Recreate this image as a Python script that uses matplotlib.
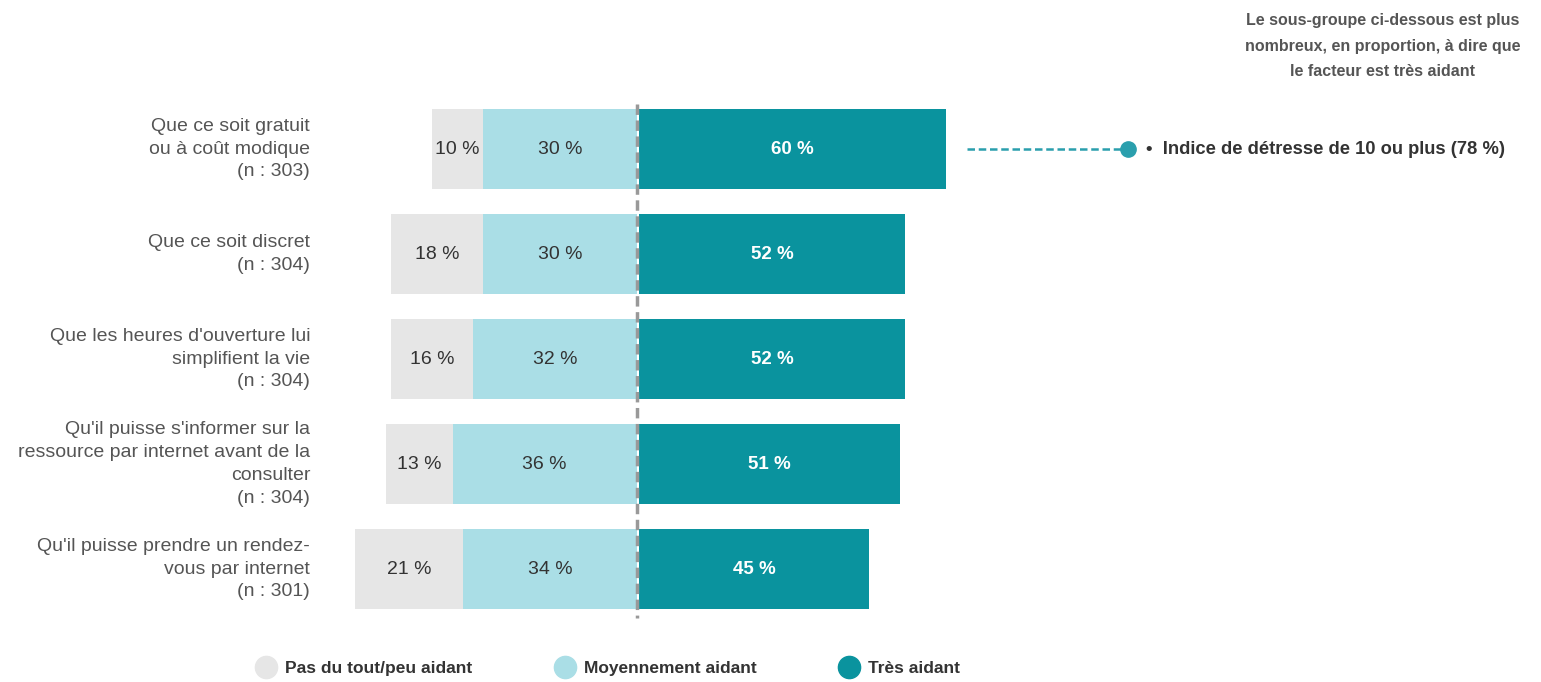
import matplotlib.pyplot as plt
from matplotlib.lines import Line2D

plt.rcParams['font.family'] = ['Liberation Sans', 'DejaVu Sans']

# facteurs, du haut vers le bas
labels = [
    "Que ce soit gratuit\nou à coût modique\n(n : 303)",
    "Que ce soit discret\n(n : 304)",
    "Que les heures d'ouverture lui\nsimplifient la vie\n(n : 304)",
    "Qu'il puisse s'informer sur la\nressource par internet avant de la\nconsulter\n(n : 304)",
    "Qu'il puisse prendre un rendez-\nvous par internet\n(n : 301)",
]
peu = [10, 18, 16, 13, 21]
moyen = [30, 30, 32, 36, 34]
tres = [60, 52, 52, 51, 45]

legend_names = ["Pas du tout/peu aidant", "Moyennement aidant", "Très aidant"]
c_peu = "#e6e6e6"
c_moyen = "#aadee6"
c_tres = "#0a939e"

fig = plt.figure(figsize=(15.41, 6.82), dpi=100)
ax = fig.add_axes([0, 0, 1, 1])
ax.set_xlim(-124.4, 176.6)
ax.set_ylim(5.076, -1.419)
ax.axis("off")

pos = list(range(len(labels)))
h = 0.77
ax.barh(pos, moyen, left=[-m for m in moyen], height=h, color=c_moyen)
ax.barh(pos, peu, left=[-(m + p) for m, p in zip(moyen, peu)], height=h, color=c_peu)
ax.barh(pos, tres, left=0.4, height=h, color=c_tres)

for i in pos:
    ax.text(-moyen[i] - peu[i] / 2, i, f"{peu[i]} %", ha="center", va="center",
            fontsize=14, color="#333333")
    ax.text(-moyen[i] / 2, i, f"{moyen[i]} %", ha="center", va="center",
            fontsize=14, color="#333333")
    ax.text(0.4 + tres[i] / 2, i, f"{tres[i]} %", ha="center", va="center",
            fontsize=13.5, color="white", fontweight="bold")
    ax.text(-63.8, i, labels[i], ha="right", va="center", fontsize=14,
            color="#555555", linespacing=1.45)

# ligne centrale
ax.plot([0, 0], [-0.43, 4.47], color="#999999", lw=2.5, ls=(0, (3, 1.6)), zorder=5)

# sous-groupe
ax.text(145.7, -0.98, "Le sous-groupe ci-dessous est plus\nnombreux, en proportion, à dire que\nle facteur est très aidant",
        ha="center", va="center", fontsize=11.5, fontweight="bold", color="#555555",
        linespacing=1.85)
ax.plot([64.5, 95.9], [0, 0], color="#2a9fad", lw=1.8, ls=(0, (3, 1.5)))
ax.plot([95.9], [0], marker="o", ms=11, color="#2a9fad")
ax.text(99.5, 0, "•  Indice de détresse de 10 ou plus (78 %)", ha="left", va="center",
        fontsize=13.2, fontweight="bold", color="#333333")

handles = [Line2D([], [], ls="none", marker="o", ms=16, color=c)
           for c in (c_peu, c_moyen, c_tres)]
ax.legend(handles, legend_names, loc="center", bbox_to_anchor=(0.395, 0.02),
          ncol=3, frameon=False, handlelength=1.0, handletextpad=0.6,
          columnspacing=4.8, prop={"size": 12.5, "weight": "bold"},
          labelcolor="#333333")

fig.savefig("out.png", dpi=100)
